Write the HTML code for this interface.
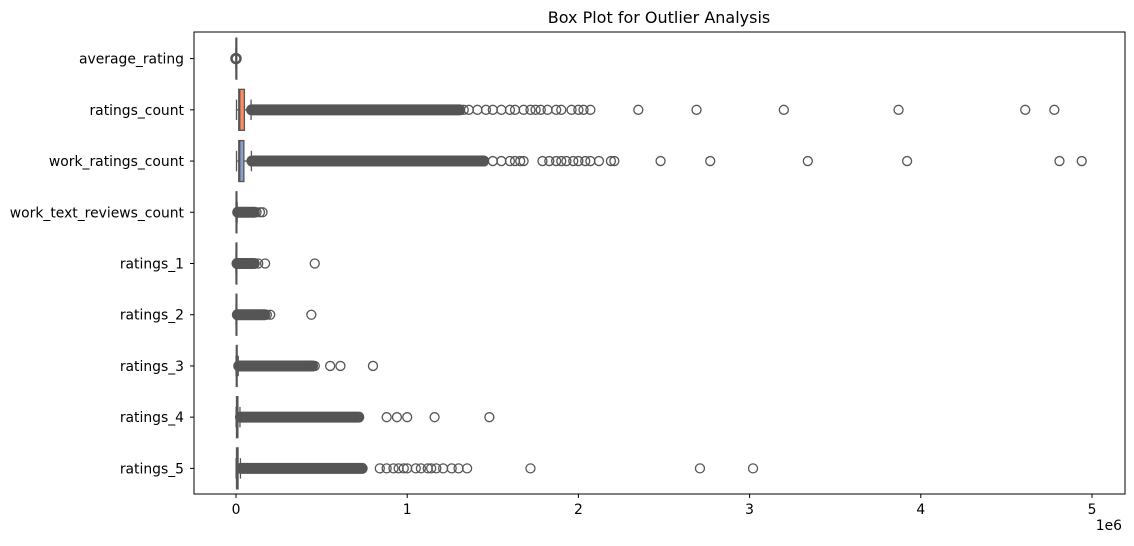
<!DOCTYPE html>
<html><head><meta charset="utf-8"><style>
body{margin:0;background:#fff;}
svg{display:block;font-family:"DejaVu Sans","Liberation Sans",sans-serif;}
</style></head><body>
<svg id="chart" width="1134" height="546" xmlns="http://www.w3.org/2000/svg">
<rect width="1134" height="546" fill="#fff"/>
<text x="659" y="23" font-size="16" text-anchor="middle">Box Plot for Outlier Analysis</text>
<g id="marks"></g>
<rect x="194" y="32" width="931" height="462" fill="none" stroke="#000" stroke-width="1"/>
<g id="axes"></g>
<text x="1122" y="530" font-size="13.9" text-anchor="end">1e6</text>
</svg>
<script>
const categories=["average_rating","ratings_count","work_ratings_count","work_text_reviews_count","ratings_1","ratings_2","ratings_3","ratings_4","ratings_5"];
const whiskerLo=[0.000004,0.003,0.003,0.0002,0.0001,0.0002,0.0004,0.0007,0.0006];
const q1=[0.0000038,0.016,0.016,0.0005,0.0003,0.0004,0.002,0.003,0.003];
const medians=[0.000004,0.022,0.022,0.0012,0.0006,0.001,0.003,0.006,0.006];
const q3=[0.0000042,0.049,0.046,0.003,0.001,0.002,0.006,0.011,0.012];
const whiskerHi=[0.000005,0.088,0.090,0.007,0.003,0.005,0.013,0.023,0.026];
const denseEnd=[0.000005,1.31,1.45,0.11,0.11,0.17,0.45,0.72,0.74];
const outliers=[
 [0],
 [1.33,1.36,1.41,1.46,1.5,1.55,1.6,1.63,1.68,1.72,1.75,1.78,1.82,1.87,1.9,1.96,2.0,2.03,2.07,2.35,2.69,3.2,3.87,4.61,4.78],
 [1.5,1.55,1.6,1.63,1.66,1.68,1.79,1.83,1.87,1.9,1.93,1.97,2.0,2.04,2.07,2.12,2.19,2.21,2.48,2.77,3.34,3.92,4.81,4.94],
 [0.12,0.14,0.155],
 [0.13,0.17,0.46],
 [0.18,0.2,0.44],
 [0.46,0.55,0.61,0.8],
 [0.88,0.94,1.0,1.16,1.48],
 [0.84,0.88,0.92,0.95,0.98,1.0,1.05,1.08,1.12,1.14,1.17,1.21,1.26,1.3,1.35,1.72,2.71,3.02]
];
const boxColors=["#66c2a5","#fc8d62","#8da0cb","#e78ac3","#a6d854","#ffd92f","#e5c494","#b3b3b3","#66c2a5"];
const xTicks=[0,1,2,3,4,5];
const xTickLabels=["0","1","2","3","4","5"];

const X0=236,PX=171.2,TOP=33,ROWH=461/9;
const xs=v=>X0+v*PX;
const ys=i=>TOP+ROWH*(i+0.5);
const NS="http://www.w3.org/2000/svg";
const marks=document.getElementById('marks'),axes=document.getElementById('axes');
function mk(tag,attrs,parent){const e=document.createElementNS(NS,tag);for(const k in attrs)e.setAttribute(k,attrs[k]);parent.appendChild(e);return e;}
const C="#555";
categories.forEach((c,i)=>{
 const y=ys(i),h=ROWH*0.8;
 const g=mk('g',{},marks);
 
 
 if(denseEnd[i]>whiskerHi[i]+0.01){
  const b=mk('rect',{x:xs(whiskerHi[i])-5,y:y-5.5,width:xs(denseEnd[i])-xs(whiskerHi[i])+10,height:11,rx:5.5,fill:C},g);
  
  
 }
 outliers[i].forEach(v=>{
  const o=mk('circle',{cx:xs(v),cy:y,r:4.5,fill:"none",stroke:C,"stroke-width":i==0?2.5:1.3},g);
  
  
 });
 mk('line',{x1:xs(whiskerLo[i]),x2:xs(q1[i]),y1:y,y2:y,stroke:C,"stroke-width":1.3},g);
 mk('line',{x1:xs(q3[i]),x2:xs(whiskerHi[i]),y1:y,y2:y,stroke:C,"stroke-width":1.3},g);
 mk('line',{x1:xs(whiskerHi[i]),x2:xs(whiskerHi[i]),y1:y-h/4,y2:y+h/4,stroke:C,"stroke-width":1.3},g);
 mk('line',{x1:xs(whiskerLo[i]),x2:xs(whiskerLo[i]),y1:y-h/4,y2:y+h/4,stroke:C,"stroke-width":1.3},g);
 const bw=Math.max(xs(q3[i])-xs(q1[i]),0.8);
 const box=mk('rect',{x:xs(q1[i]),y:y-h/2,width:bw,height:h,fill:boxColors[i],stroke:C,"stroke-width":1.3},g);
 
 
 mk('line',{x1:xs(medians[i]),x2:xs(medians[i]),y1:y-h/2,y2:y+h/2,stroke:C,"stroke-width":1.3},g);
 mk('line',{x1:190,x2:194,y1:y,y2:y,stroke:"#000","stroke-width":1},axes);
 const t=mk('text',{x:184,y:y+5,"font-size":13.9,"text-anchor":"end"},axes);
 t.textContent=c;
 
 
});
xTicks.forEach((v,k)=>{
 mk('line',{x1:xs(v),x2:xs(v),y1:494,y2:498,stroke:"#000","stroke-width":1},axes);
 const t=mk('text',{x:xs(v),y:514,"font-size":13.9,"text-anchor":"middle"},axes);
 t.textContent=xTickLabels[k];
 
 
});
</script>
</body></html>
